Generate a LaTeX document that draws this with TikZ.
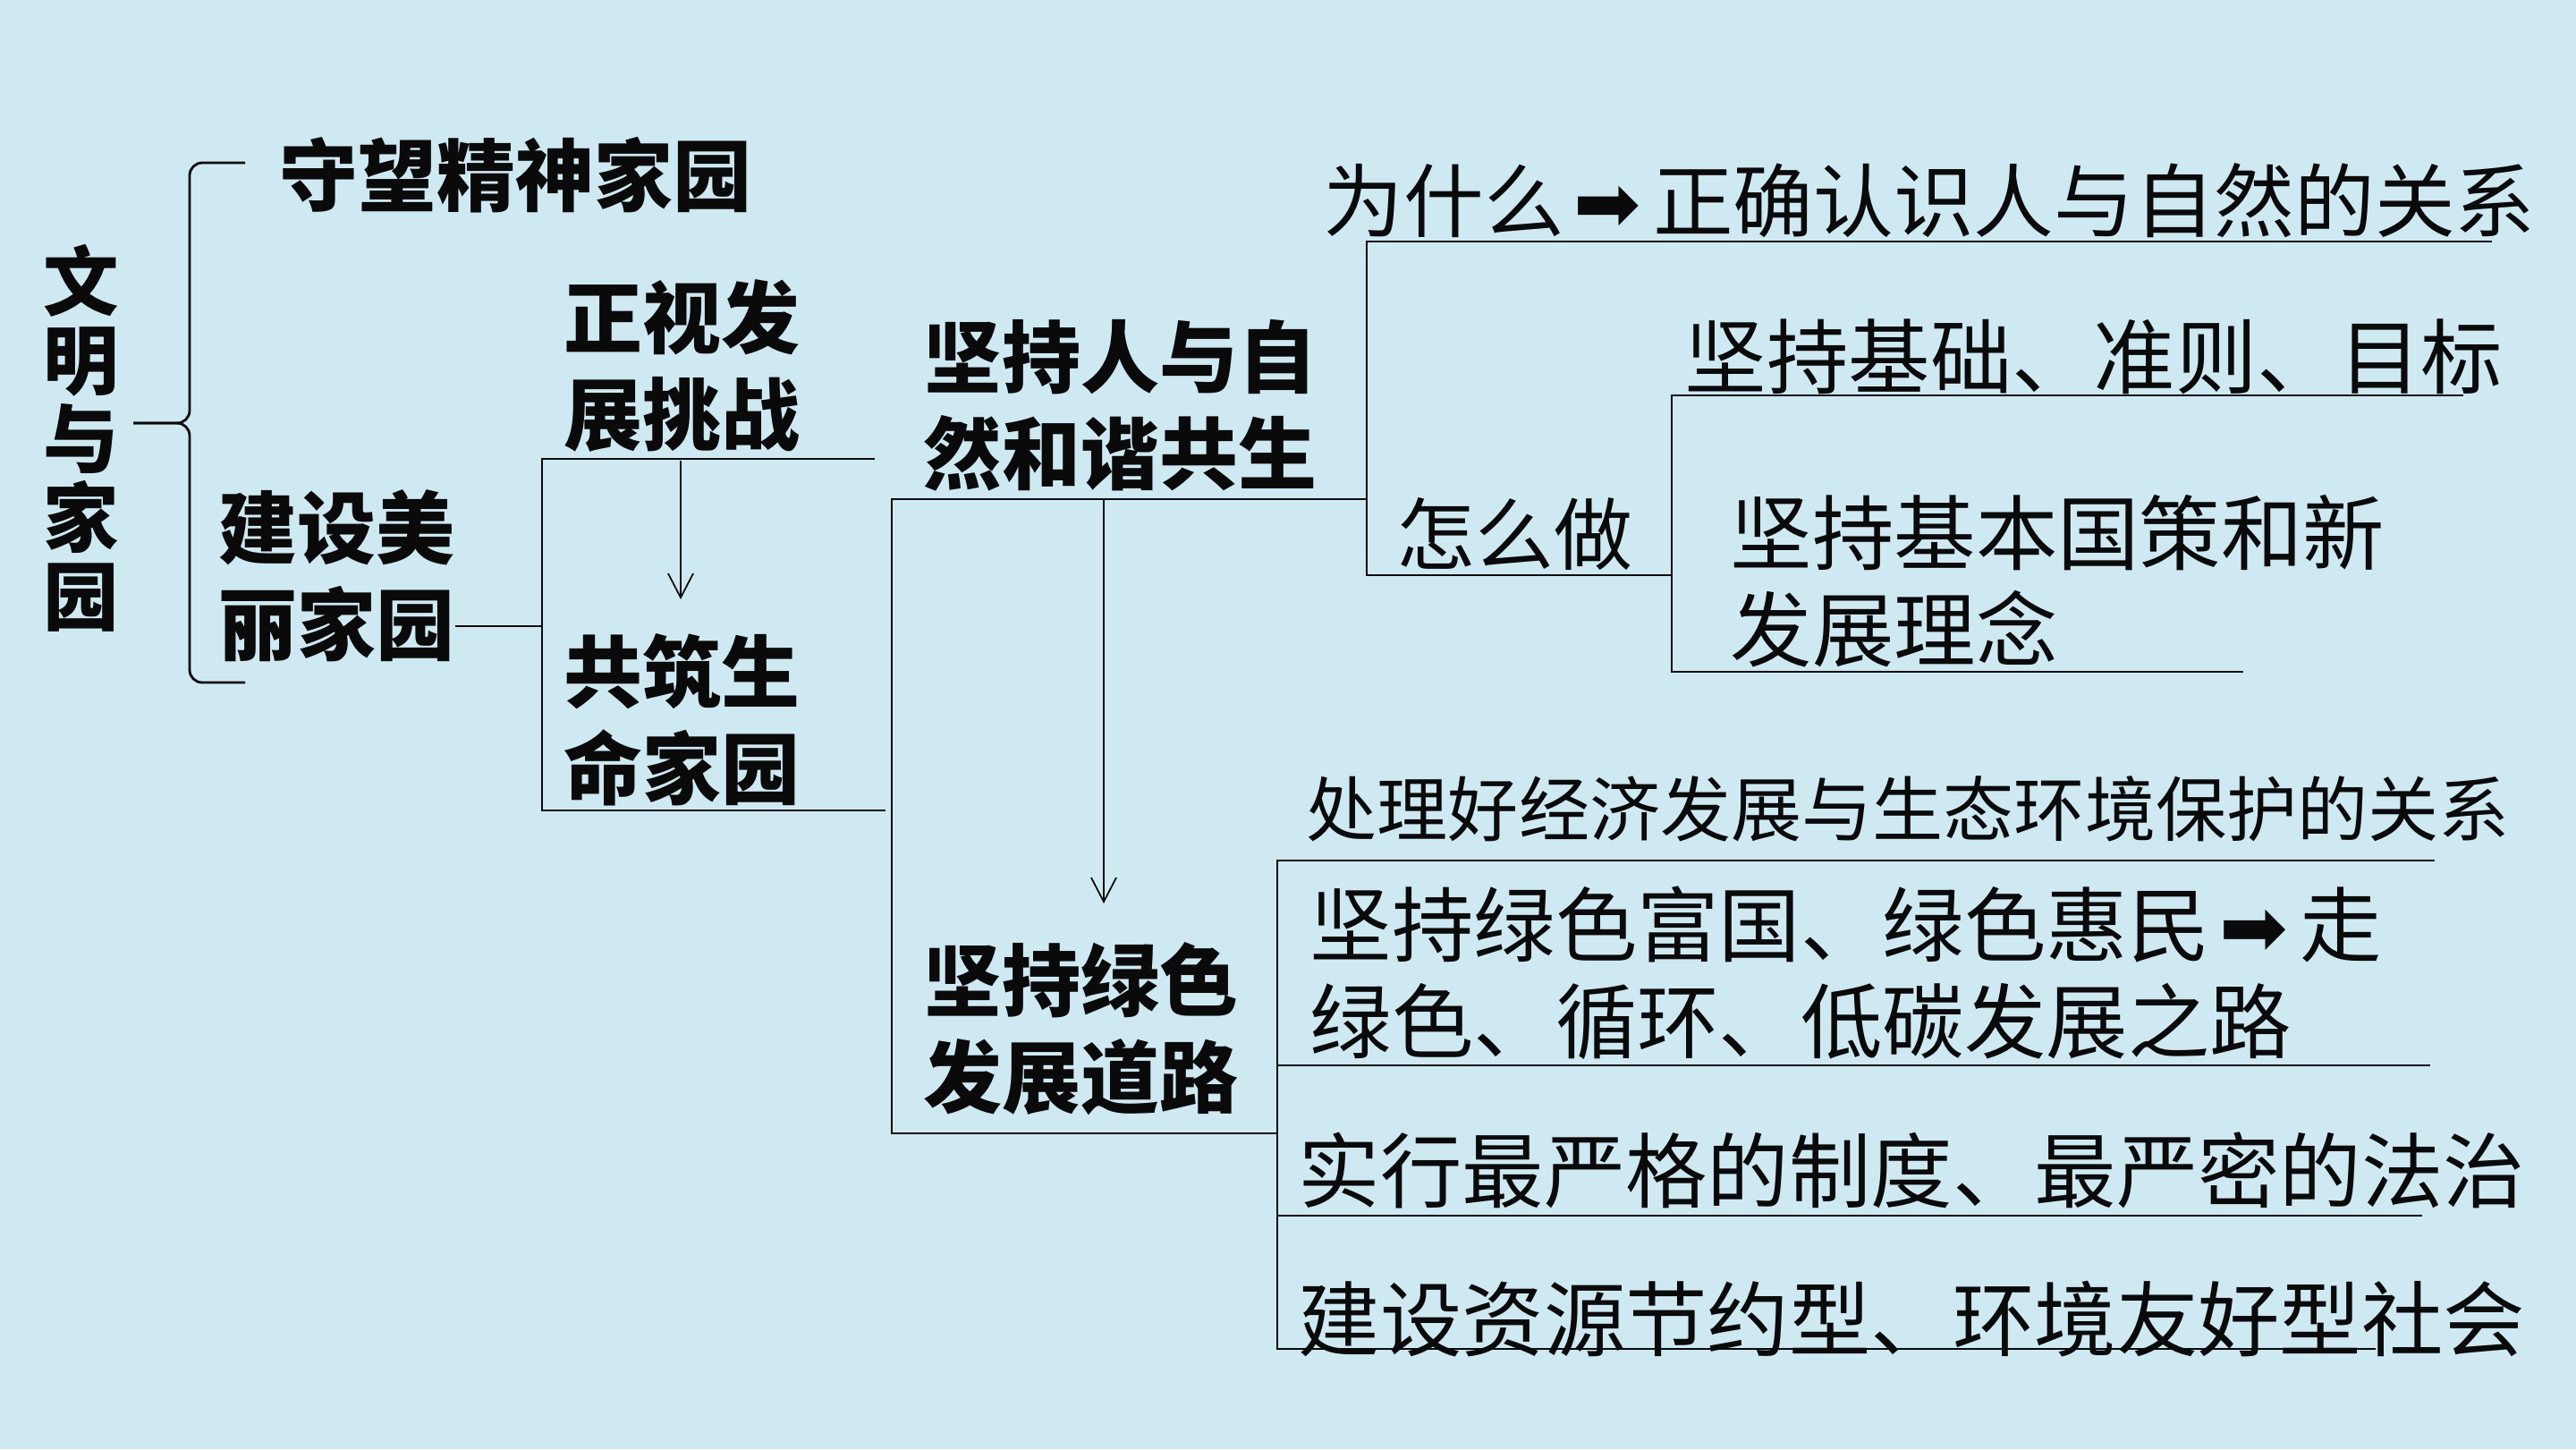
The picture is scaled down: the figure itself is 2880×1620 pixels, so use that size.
\documentclass[tikz,border=0pt]{standalone}
\usepackage{fontspec}
\usepackage{xcolor}
\usetikzlibrary{arrows.meta}
\newfontfamily\cjk{Noto Sans CJK SC}
\newfontfamily\symfont{DejaVu Sans}
\newcommand{\goarrow}{{\symfont\hspace{0.12em}➡\hspace{0.15em}}}
\definecolor{slidebg}{HTML}{CFE9F3}
\definecolor{ink}{HTML}{0A0A0A}

\begin{document}
\begin{tikzpicture}[
    x=0.01cm,
    y=-0.01cm,
    lbl/.style={inner sep=0pt, anchor=west, align=left, text=ink, font=\cjk\fontsize{26pt}{30.7pt}\selectfont},
    head/.style={lbl, font=\cjk\bfseries\fontsize{25pt}{30.7pt}\selectfont},
    link/.style={draw=ink, line width=0.8pt},
    arr/.style={draw=ink, line width=0.5pt, -{Straight Barb[length=2.7mm, width=2.8mm]}}
  ]
    \useasboundingbox (0,0) rectangle (2880,1620);
    \fill[slidebg] (0,0) rectangle (2880,1620);

    % left column
    \node[head, anchor=center, align=center, font=\cjk\bfseries\fontsize{24pt}{25pt}\selectfont] (home) at (91,490) {文\\明\\与\\家\\园};
    \node[head] (spirit) at (312,196) {守望精神家园};
    \node[head] (beauty) at (244,644) {建设美\\丽家园};

    \coordinate (bt) at (274,182);
    \coordinate (bb) at (274,763);
    \coordinate (bm) at (212,473);
    \coordinate (btip) at (149,473);
    \draw[link, rounded corners=4pt] (bt) -| (bm) -- (btip);
    \draw[link, rounded corners=4pt] (btip) -- (bm) |- (bb);

    % beautiful home
    \node[head] (challenge) at (630,409) {正视发\\展挑战};
    \node[head] (life) at (630,805) {共筑生\\命家园};
    \coordinate (j1) at (606,700);
    \coordinate (j1t) at (978,513);
    \coordinate (j1b) at (990,906);
    \draw[link] (beauty.east |- j1) -- (j1);
    \draw[link] (j1t) -| (j1) |- (j1b);
    \coordinate (a1s) at (761,515);
    \coordinate (a1e) at (761,670);
    \draw[arr] (a1s) -- (a1e);

    % harmony and green road
    \node[head] (harmony) at (1032,453) {坚持人与自\\然和谐共生};
    \node[head] (green) at (1032,1150) {坚持绿色\\发展道路};
    \coordinate (j2t) at (997,558);
    \coordinate (j2b) at (997,1267);
    \coordinate (j2r) at (1528,558);
    \coordinate (j2g) at (1428,1267);
    \draw[link] (j2r) -- (j2t) -- (j2b) -- (j2g);
    \coordinate (a2s) at (1234,558);
    \coordinate (a2e) at (1234,1010);
    \draw[arr] (a2s) -- (a2e);

    % why / how
    \node[lbl, font=\cjk\fontsize{25.5pt}{30pt}\selectfont] (why) at (1479,224) {为什么\goarrow 正确认识人与自然的关系};
    \node[lbl, font=\cjk\fontsize{25pt}{30pt}\selectfont] (how) at (1561,597) {怎么做};
    \coordinate (j3t) at (2786,270);
    \coordinate (j3b) at (1869,643);
    \draw[link] (j3t) -| (j2r) |- (j3b);

    \node[lbl] (basis) at (1883,399) {坚持基础、准则、目标};
    \node[lbl] (policy) at (1934,650) {坚持基本国策和新\\发展理念};
    \coordinate (j4t) at (2754,442);
    \coordinate (j4b) at (2508,751);
    \draw[link] (j4t) -| (j3b) |- (j4b);

    % green development
    \node[lbl, font=\cjk\fontsize{22.5pt}{30pt}\selectfont] (relation) at (1460,904) {处理好经济发展与生态环境保护的关系};
    \node[lbl] (road) at (1464,1088) {坚持绿色富国、绿色惠民\goarrow 走\\绿色、循环、低碳发展之路};
    \node[lbl] (law) at (1451,1308) {实行最严格的制度、最严密的法治};
    \node[lbl] (society) at (1451,1475) {建设资源节约型、环境友好型社会};
    \coordinate (g1) at (2722,962);
    \coordinate (g2) at (2717,1191);
    \coordinate (g3) at (2708,1359);
    \coordinate (g4) at (2656,1508);
    \draw[link] (g1) -| (j2g) |- (g4);
    \draw[link] (g2 -| j2g) -- (g2);
    \draw[link] (g3 -| j2g) -- (g3);
  \end{tikzpicture}
\end{document}
